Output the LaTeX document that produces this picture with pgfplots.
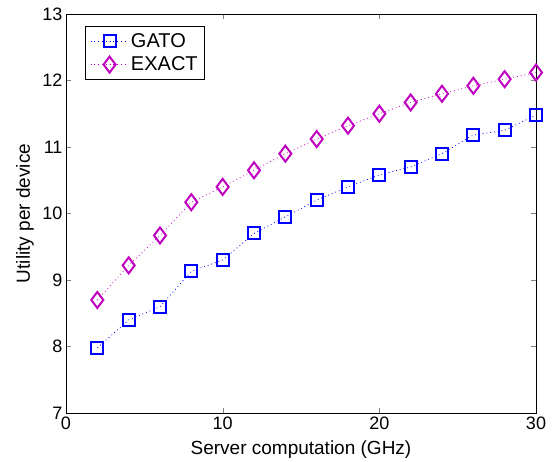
\documentclass[border=0pt]{standalone}
\usepackage{fontspec}
\setmainfont{Liberation Sans}
\usepackage{pgfplots}
\pgfplotsset{compat=1.18}
\definecolor{gatoblue}{RGB}{0,0,255}
\definecolor{exactmag}{RGB}{192,0,192}

\begin{document}
\begin{tikzpicture}
% page frame, same proportions as the reference (553 x 461)
\useasboundingbox (-66pt,-48pt) rectangle (487pt,413pt);
\begin{axis}[
  anchor=south west, at={(0pt,0pt)},
  scale only axis,
  width=470pt, height=399pt,
  xmin=0, xmax=30, ymin=7, ymax=13,
  xtick={0,10,20,30}, ytick={7,8,...,13},
  tick align=inside, major tick length=5pt,
  /pgf/number format/assume math mode=true,
  tick label style={font=\fontsize{18}{21}\selectfont},
  label style={font=\fontsize{19}{22}\selectfont},
  xlabel={Server computation (GHz)},
  ylabel={Utility per device},
  xlabel style={at={(axis description cs:0.5,0)}, anchor=center, yshift=-37pt},
  ylabel style={at={(axis description cs:0,0.5)}, anchor=center, yshift=41pt},
  axis line style={line width=0.8pt},
  legend style={at={(0.04,0.97)}, anchor=north west, draw=black,
    line width=0.8pt, font=\fontsize{20}{23}\selectfont,
    row sep=4pt, inner xsep=5pt, inner ysep=5pt},
  legend cell align=left,
  legend image code/.code={
    \draw[mark repeat=2, mark phase=2]
      plot coordinates {(0pt,0pt) (19pt,0pt) (38pt,0pt)};},
]
\addplot[color=gatoblue, line width=0.8pt, dash pattern=on 0.8pt off 3pt,
  mark=square, mark size=6pt, mark options={solid, line width=2pt}]
  coordinates {
  (2,7.98) (4,8.40) (6,8.60) (8,9.13) (10,9.30) (12,9.70) (14,9.95)
  (16,10.20) (18,10.40) (20,10.58) (22,10.70) (24,10.90) (26,11.18)
  (28,11.25) (30,11.48)
};
\addlegendentry{GATO}
\addplot[color=exactmag, line width=0.8pt, dash pattern=on 0.8pt off 3pt,
  mark=diamond, mark size=8pt, mark options={solid, line width=2pt}]
  coordinates {
  (2,8.70) (4,9.22) (6,9.67) (8,10.17) (10,10.40) (12,10.65) (14,10.90)
  (16,11.12) (18,11.32) (20,11.50) (22,11.67) (24,11.80) (26,11.92)
  (28,12.02) (30,12.12)
};
\addlegendentry{EXACT}
\end{axis}
\end{tikzpicture}
\end{document}
